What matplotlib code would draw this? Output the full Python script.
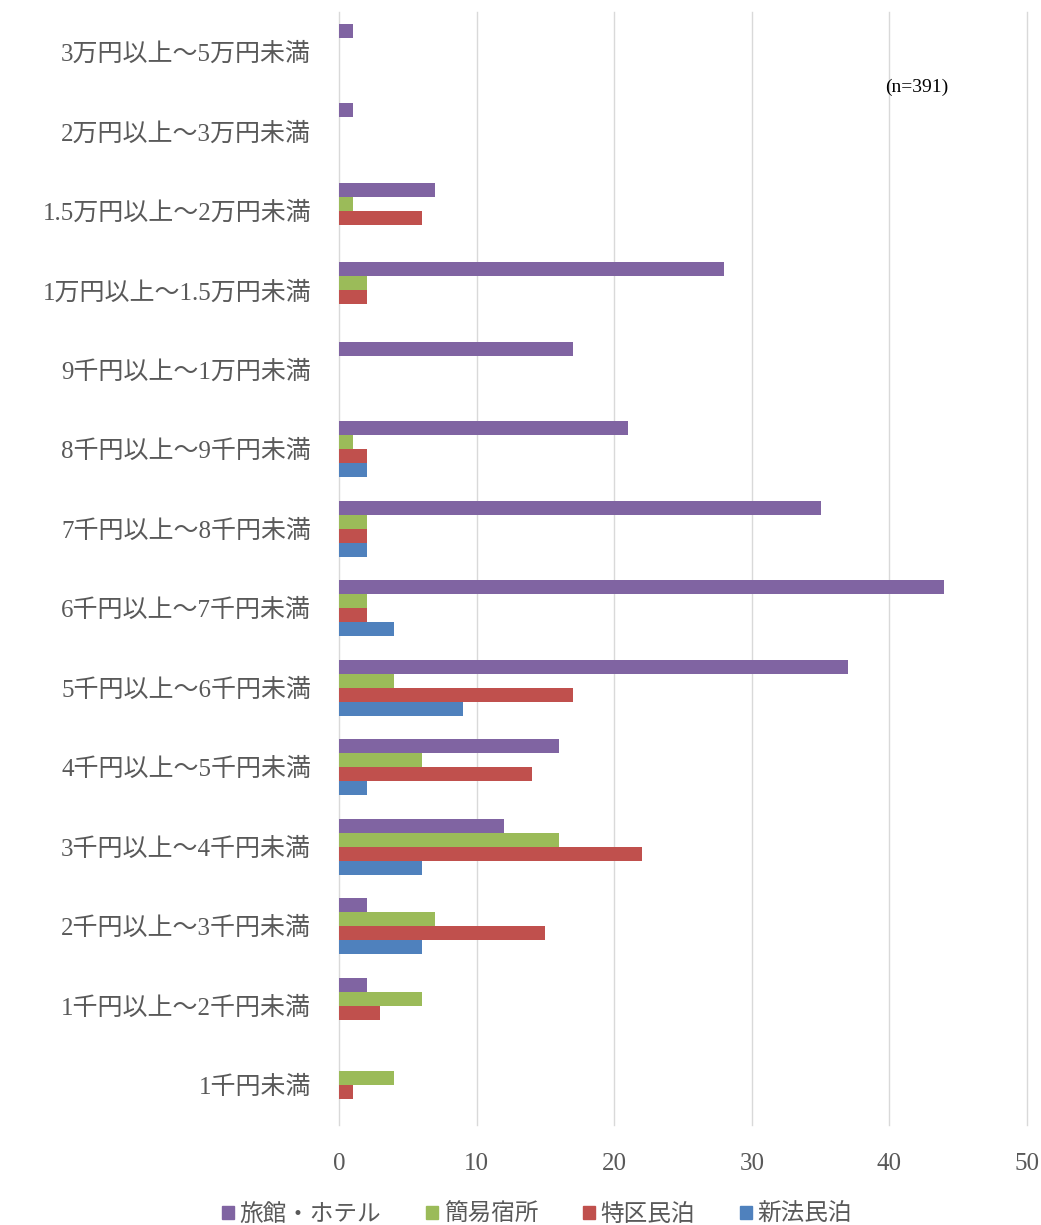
import numpy as np
import matplotlib.pyplot as plt
from matplotlib.patches import Patch

# price bands, bottom to top
categories = ["1千円未満", "1千円以上～2千円未満", "2千円以上～3千円未満", "3千円以上～4千円未満",
              "4千円以上～5千円未満", "5千円以上～6千円未満", "6千円以上～7千円未満", "7千円以上～8千円未満",
              "8千円以上～9千円未満", "9千円以上～1万円未満", "1万円以上～1.5万円未満",
              "1.5万円以上～2万円未満", "2万円以上～3万円未満", "3万円以上～5万円未満"]
ryokan = [0, 2, 2, 12, 16, 37, 44, 35, 21, 17, 28, 7, 1, 1]
kan_i = [4, 6, 7, 16, 6, 4, 2, 2, 1, 0, 2, 1, 0, 0]
tokku = [1, 3, 15, 22, 14, 17, 2, 2, 2, 0, 2, 6, 0, 0]
shinpo = [0, 0, 6, 6, 2, 9, 4, 2, 2, 0, 0, 0, 0, 0]
series_names = ["旅館・ホテル", "簡易宿所", "特区民泊", "新法民泊"]
colors = ["#8064A2", "#9BBB59", "#C0504D", "#4F81BD"]

label_font = ["Liberation Serif", "Noto Sans CJK JP", "DejaVu Sans"]
text_color = "#595959"

fig = plt.figure(figsize=(10.41, 12.25), dpi=100)
ax = fig.add_axes([339 / 1041, 1 - 1125 / 1225, (1027 - 339) / 1041, (1125 - 12) / 1225])

y = np.arange(len(categories))
h = 0.176
for i, (vals, c) in enumerate(zip([ryokan, kan_i, tokku, shinpo], colors)):
    ax.barh(y + (1.5 - i) * h, vals, height=h, color=c, zorder=3)

ax.set_xlim(0, 50)
ax.set_ylim(-0.5, len(categories) - 0.5)
ax.set_xticks(np.arange(0, 51, 10))
ax.set_yticks(y)
ax.set_yticklabels(categories)
ax.grid(axis="x", color="#d9d9d9", linewidth=1, zorder=0)
for gl in ax.get_xgridlines():
    gl.set_clip_on(False)
for s in ax.spines.values():
    s.set_visible(False)
ax.tick_params(axis="both", length=0, colors=text_color, pad=20)
for lbl in ax.get_yticklabels() + ax.get_xticklabels():
    lbl.set_family(label_font)
    lbl.set_fontsize(18)

ax.text(0.84, 0.932, "(n=391)", transform=ax.transAxes, ha="center", va="center",
        fontsize=14, color="black", family=label_font)

handles = [Patch(color=c, label=n) for c, n in zip(colors, series_names)]
leg = fig.legend(handles=handles, loc="lower center", bbox_to_anchor=(537 / 1041, -0.018), ncol=4,
                 frameon=False, handlelength=0.5, handleheight=0.5, handletextpad=0.25,
                 columnspacing=1.9, prop={"family": ["Noto Sans CJK JP", "DejaVu Sans"], "size": 17})
for t in leg.get_texts():
    t.set_color(text_color)

fig.savefig("out.png", dpi=100)
